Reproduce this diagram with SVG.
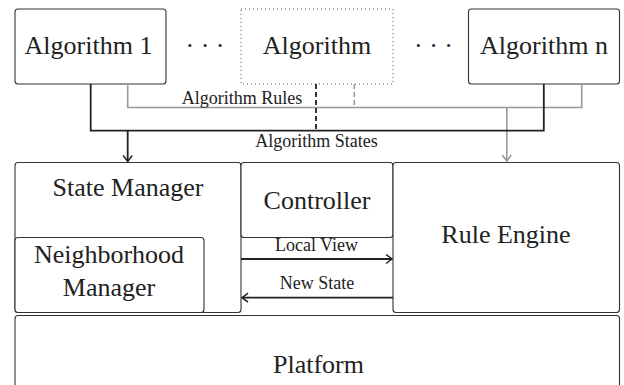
<svg xmlns="http://www.w3.org/2000/svg" width="624" height="385" viewBox="0 0 624 385">
<style>
.box{fill:#fff;stroke:#333;stroke-width:1.1}
text{font-family:'Liberation Serif',serif;fill:#222;text-anchor:middle}
.big{font-size:26px}
.small{font-size:18px}
.blk{fill:none;stroke:#222;stroke-width:1.8}
.gry{fill:none;stroke:#999;stroke-width:1.6}
</style>
<defs>
<marker id="ab" markerWidth="12" markerHeight="12" refX="9" refY="6" orient="auto" markerUnits="userSpaceOnUse">
<path d="M3,1.5 L9,6 L3,10.5" fill="none" stroke="#222" stroke-width="1.5"/>
</marker>
<marker id="ag" markerWidth="12" markerHeight="12" refX="9" refY="6" orient="auto" markerUnits="userSpaceOnUse">
<path d="M3,1.5 L9,6 L3,10.5" fill="none" stroke="#999" stroke-width="1.5"/>
</marker>
</defs>
<g id="alg1"><rect class="box" x="15" y="9" width="151" height="75" rx="3"/><text class="big" x="88.5" y="53.5">Algorithm 1</text></g>
<g id="dots1"><text class="big" x="205" y="53.5">· · ·</text></g>
<g id="alg"><rect x="241" y="9" width="152" height="75" fill="#fff" stroke="#555" stroke-width="1" stroke-dasharray="1,3"/><text class="big" x="317" y="53.5">Algorithm</text></g>
<g id="dots2"><text class="big" x="433.5" y="53.5">· · ·</text></g>
<g id="algn"><rect class="box" x="468.5" y="9" width="151" height="75" rx="3"/><text class="big" x="544" y="53.5">Algorithm n</text></g>
<g id="stateManager"><rect class="box" x="15" y="162.5" width="226" height="150" rx="3"/><text class="big" x="128" y="196">State Manager</text></g>
<g id="neighborhoodManager"><rect class="box" x="15" y="237.5" width="189" height="75" rx="3"/><text class="big" x="109" y="263">Neighborhood</text><text class="big" x="109" y="296">Manager</text></g>
<g id="controller"><rect class="box" x="241" y="162.5" width="152" height="75" rx="3"/><text class="big" x="317" y="209">Controller</text></g>
<g id="ruleEngine"><rect class="box" x="393" y="162.5" width="226.5" height="150" rx="3"/><text class="big" x="506" y="242.5">Rule Engine</text></g>
<g id="platform"><rect class="box" x="15" y="315.5" width="604.5" height="80" rx="3"/><text class="big" x="318.5" y="373">Platform</text></g>
<g id="connectors">
<path class="gry" d="M127.7,84 V107.5 H581.7 V84"/>
<path class="gry" d="M354.3,84 V107.5" stroke-dasharray="5,3"/>
<path class="gry" d="M506.8,107.5 V161" marker-end="url(#ag)"/>
<path class="blk" d="M90.7,84 V130.7 H543.8 V84"/>
<path class="blk" d="M316,84 V130.7" stroke-dasharray="5,3"/>
<path class="blk" d="M127.7,130.7 V161.5" marker-end="url(#ab)"/>
<path class="blk" d="M241,259 H392" marker-end="url(#ab)"/>
<path class="blk" d="M393,297.7 H242" marker-end="url(#ab)"/>
<text class="small" x="242" y="104">Algorithm Rules</text>
<text class="small" x="316.5" y="146.5">Algorithm States</text>
<text class="small" x="316.5" y="251">Local View</text>
<text class="small" x="317" y="288.5">New State</text>
</g>
</svg>
